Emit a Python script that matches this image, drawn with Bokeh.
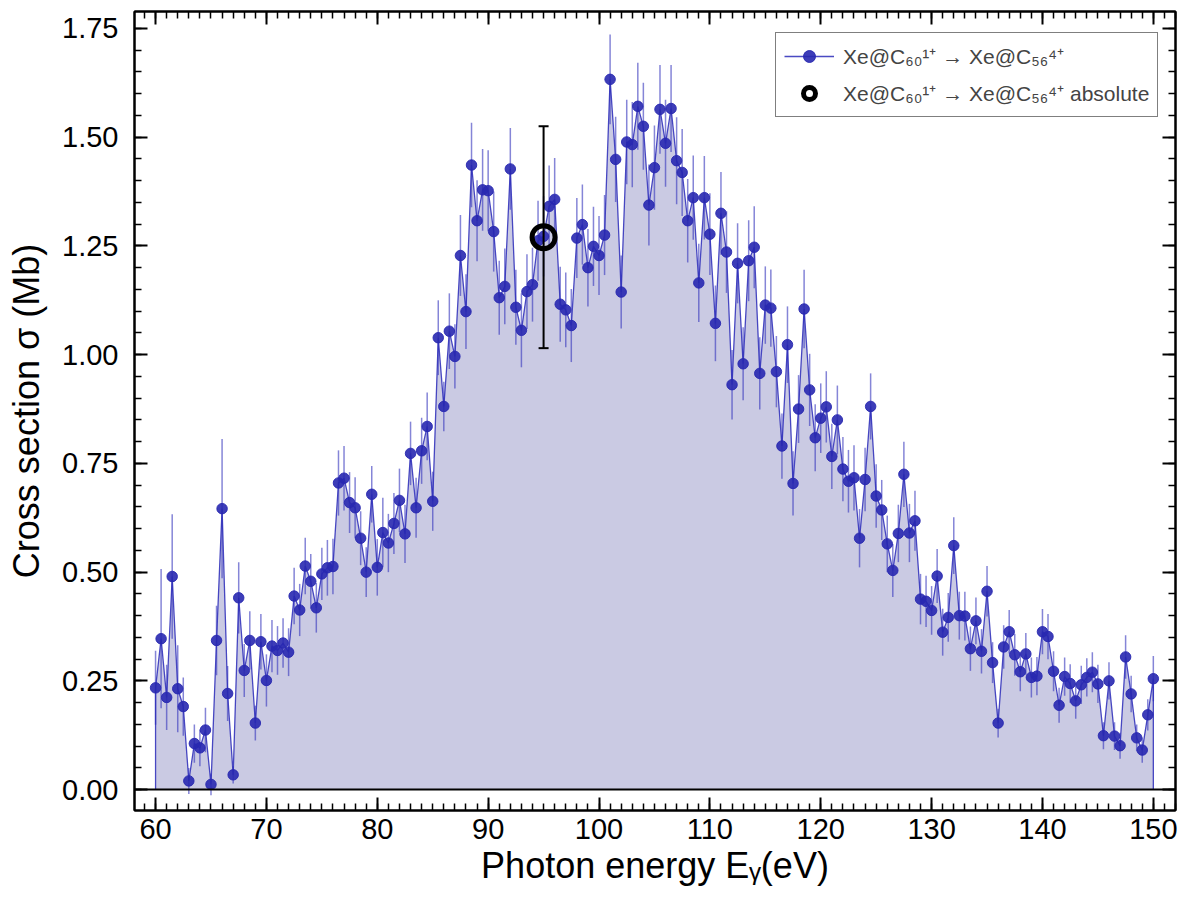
import numpy as np
from bokeh.plotting import figure
from bokeh.models import (ColumnDataSource, LinearAxis, SingleIntervalTicker,
                          PrintfTickFormatter, Range1d, Span, Legend, LegendItem,
                          Whisker, TeeHead, CustomLabelingPolicy)
from bokeh.embed import file_html
from bokeh.resources import INLINE

# ---------------- data ----------------
energy = np.arange(60.0, 150.0 + 0.25, 0.5)  # photon energy grid (eV)

sigma = [
    0.234, 0.347, 0.212, 0.490, 0.232, 0.191, 0.020, 0.106, 0.096, 0.137,   # 60.0-64.5
    0.012, 0.343, 0.646, 0.221, 0.034, 0.441, 0.274, 0.343, 0.153, 0.340,   # 65.0-69.5
    0.251, 0.330, 0.320, 0.337, 0.316, 0.445, 0.413, 0.514, 0.479, 0.418,   # 70.0-74.5
    0.496, 0.510, 0.513, 0.705, 0.716, 0.660, 0.648, 0.578, 0.500, 0.679,   # 75.0-79.5
    0.511, 0.591, 0.567, 0.612, 0.665, 0.588, 0.773, 0.648, 0.779, 0.835,   # 80.0-84.5
    0.663, 1.039, 0.881, 1.054, 0.996, 1.228, 1.099, 1.436, 1.308, 1.379,   # 85.0-89.5
    1.377, 1.283, 1.131, 1.157, 1.427, 1.109, 1.056, 1.145, 1.161, 1.262,   # 90.0-94.5
    1.272, 1.341, 1.357, 1.116, 1.103, 1.067, 1.268, 1.299, 1.200, 1.249,   # 95.0-99.5
    1.228, 1.275, 1.633, 1.449, 1.144, 1.489, 1.483, 1.571, 1.525, 1.344,   # 100.0-104.5
    1.430, 1.564, 1.486, 1.566, 1.446, 1.419, 1.308, 1.361, 1.165, 1.361,   # 105.0-109.5
    1.277, 1.072, 1.325, 1.236, 0.931, 1.210, 0.979, 1.216, 1.247, 0.957,   # 110.0-114.5
    1.114, 1.107, 0.961, 0.790, 1.023, 0.704, 0.875, 1.105, 0.919, 0.809,   # 115.0-119.5
    0.854, 0.880, 0.766, 0.850, 0.737, 0.709, 0.717, 0.578, 0.713, 0.881,   # 120.0-124.5
    0.675, 0.643, 0.565, 0.504, 0.589, 0.725, 0.590, 0.618, 0.438, 0.433,   # 125.0-129.5
    0.412, 0.491, 0.362, 0.396, 0.561, 0.400, 0.399, 0.324, 0.388, 0.318,   # 130.0-134.5
    0.456, 0.292, 0.153, 0.328, 0.363, 0.310, 0.271, 0.312, 0.258, 0.261,   # 135.0-139.5
    0.363, 0.352, 0.272, 0.194, 0.260, 0.244, 0.204, 0.241, 0.258, 0.270,   # 140.0-144.5
    0.243, 0.124, 0.250, 0.123, 0.101, 0.305, 0.220, 0.119, 0.091, 0.172,   # 145.0-149.5
    0.255,                                                                  # 150.0
]

sigma_err = [
    0.085, 0.160, 0.075, 0.143, 0.100, 0.067, 0.030, 0.044, 0.042, 0.051,
    0.025, 0.080, 0.160, 0.063, 0.020, 0.082, 0.061, 0.067, 0.040, 0.064,
    0.060, 0.060, 0.056, 0.057, 0.055, 0.065, 0.060, 0.065, 0.063, 0.057,
    0.060, 0.064, 0.064, 0.075, 0.074, 0.070, 0.070, 0.062, 0.057, 0.065,
    0.065, 0.080, 0.067, 0.070, 0.073, 0.067, 0.073, 0.069, 0.076, 0.078,
    0.068, 0.086, 0.057, 0.087, 0.074, 0.093, 0.086, 0.097, 0.093, 0.094,
    0.093, 0.092, 0.085, 0.087, 0.094, 0.086, 0.085, 0.086, 0.085, 0.092,
    0.092, 0.094, 0.095, 0.086, 0.086, 0.084, 0.092, 0.092, 0.089, 0.091,
    0.091, 0.092, 0.103, 0.098, 0.084, 0.097, 0.098, 0.100, 0.100, 0.093,
    0.097, 0.102, 0.100, 0.100, 0.100, 0.100, 0.096, 0.097, 0.090, 0.096,
    0.094, 0.087, 0.095, 0.094, 0.080, 0.092, 0.084, 0.093, 0.094, 0.083,
    0.089, 0.089, 0.082, 0.075, 0.088, 0.074, 0.078, 0.090, 0.083, 0.077,
    0.080, 0.082, 0.075, 0.079, 0.074, 0.072, 0.075, 0.067, 0.073, 0.076,
    0.073, 0.069, 0.065, 0.061, 0.066, 0.075, 0.067, 0.069, 0.058, 0.059,
    0.056, 0.062, 0.054, 0.056, 0.065, 0.055, 0.056, 0.051, 0.054, 0.051,
    0.058, 0.047, 0.033, 0.050, 0.050, 0.048, 0.045, 0.048, 0.046, 0.044,
    0.052, 0.052, 0.046, 0.040, 0.044, 0.044, 0.041, 0.044, 0.044, 0.046,
    0.044, 0.031, 0.043, 0.032, 0.030, 0.050, 0.042, 0.031, 0.029, 0.036,
    0.052,
]

abs_energy = [95.0]
abs_sigma = [1.27]
abs_err = [0.255]

label_rel = "Xe@C\u2086\u2080\u00b9\u207a \u2192 Xe@C\u2085\u2086\u2074\u207a"
label_abs = "Xe@C\u2086\u2080\u00b9\u207a \u2192 Xe@C\u2085\u2086\u2074\u207a absolute"
x_title = "Photon energy E\u1d67(eV)"
y_title = "Cross section \u03c3 (Mb)"

# ---------------- derived sources ----------------
sig = np.array(sigma)
err = np.array(sigma_err)
src = ColumnDataSource(dict(x=energy, y=sig, lo=sig - err, hi=sig + err))
outline_x = np.concatenate([[energy[0]], energy, [energy[-1]]])
outline_y = np.concatenate([[0.0], sig, [0.0]])
abs_src = ColumnDataSource(dict(x=abs_energy, y=abs_sigma,
                                lo=np.array(abs_sigma) - np.array(abs_err),
                                hi=np.array(abs_sigma) + np.array(abs_err)))

FONT = "Liberation Sans"

p = figure(width=1187, height=899, output_backend="svg", toolbar_location=None,
           x_range=Range1d(58.1, 152.0), y_range=Range1d(-0.048, 1.789),
           min_border_left=134, min_border_right=12, min_border_top=11,
           min_border_bottom=89)
p.xgrid.visible = False
p.ygrid.visible = False
p.background_fill_color = "white"
p.border_fill_color = "white"
p.outline_line_color = "black"
p.outline_line_width = 2

xt = SingleIntervalTicker(interval=10, num_minor_ticks=10)
yt = SingleIntervalTicker(interval=0.25, num_minor_ticks=5)


def style_axis(ax, show_labels):
    ax.axis_line_color = "black"
    ax.axis_line_width = 2
    ax.major_tick_in = 13
    ax.major_tick_out = 0
    ax.minor_tick_in = 7
    ax.minor_tick_out = 0
    ax.major_tick_line_width = 2
    ax.minor_tick_line_width = 1.5
    ax.major_tick_line_color = "black"
    ax.minor_tick_line_color = "black"
    if show_labels:
        ax.major_label_text_font = FONT
        ax.major_label_text_font_size = "29px"
        ax.major_label_text_color = "black"
        ax.axis_label_text_font = FONT
        ax.axis_label_text_font_size = "36px"
        ax.axis_label_text_font_style = "normal"
        ax.axis_label_text_color = "black"
    else:
        ax.major_label_policy = CustomLabelingPolicy(code="return new Set()")
        ax.major_label_text_font_size = "0px"
        ax.major_label_standoff = 0


p.xaxis.ticker = xt
p.yaxis.ticker = yt
p.yaxis.formatter = PrintfTickFormatter(format="%.2f")
style_axis(p.xaxis[0], True)
style_axis(p.yaxis[0], True)
p.xaxis.axis_label = x_title
p.yaxis.axis_label = y_title
p.xaxis.major_label_standoff = 8
p.xaxis.axis_label_standoff = 3
p.yaxis.major_label_standoff = 16
p.yaxis.axis_label_standoff = 12

ax_top = LinearAxis(ticker=xt)
style_axis(ax_top, False)
p.add_layout(ax_top, "above")
ax_right = LinearAxis(ticker=yt)
style_axis(ax_right, False)
p.add_layout(ax_right, "right")

# ---------------- glyphs ----------------
p.varea(x=energy, y1=0, y2=sig, fill_color="#cacae3")
p.segment(x0="x", y0="lo", x1="x", y1="hi", source=src,
          line_color="#3434bc", line_alpha=0.6, line_width=1.5)
r_line = p.line(outline_x, outline_y, line_color="#2a2ab8", line_width=1.3,
                line_alpha=0.85)
r_pts = p.scatter("x", "y", source=src, size=10.5, fill_color="#2828b0",
                  line_color="#2828b0", fill_alpha=0.9, line_alpha=0.9)

p.add_layout(Span(location=0, dimension="width", line_color="black",
                  line_width=2))

p.add_layout(Whisker(source=abs_src, base="x", upper="hi", lower="lo",
                     level="annotation", line_color="black", line_width=2,
                     upper_head=TeeHead(size=10, line_color="black", line_width=2),
                     lower_head=TeeHead(size=10, line_color="black", line_width=2)))
r_abs = p.scatter("x", "y", source=abs_src, size=23, fill_color=None,
                  line_color="black", line_width=5, level="annotation")

legend = Legend(items=[LegendItem(label=label_rel, renderers=[r_line, r_pts]),
                       LegendItem(label=label_abs, renderers=[r_abs])],
                location=(641, 693))
legend.label_text_font = FONT
legend.label_text_font_size = "21px"
legend.glyph_width = 50
legend.glyph_height = 30
legend.label_standoff = 9
legend.spacing = 7
legend.padding = 8
legend.margin = 0
legend.border_line_color = "black"
legend.border_line_width = 1
legend.background_fill_color = "white"
legend.background_fill_alpha = 1.0
p.add_layout(legend)

open("out.html", "w").write(file_html(p, INLINE))
